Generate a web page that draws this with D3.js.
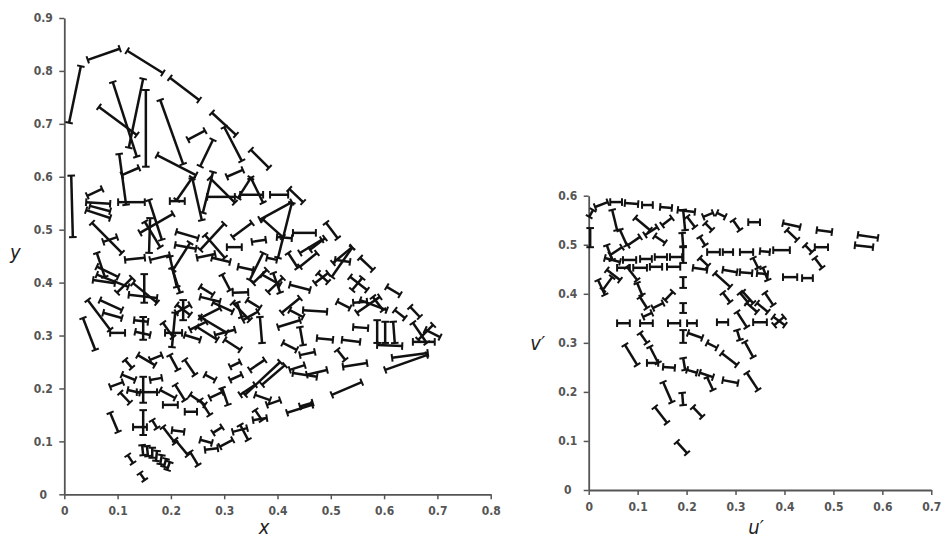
<!DOCTYPE html>
<html>
<head>
<meta charset="utf-8">
<script src="https://cdn.jsdelivr.net/npm/d3@7"></script>
<style>
  body { margin: 0; background: #fff; }
  svg text { font-family: "DejaVu Sans Condensed", "Liberation Sans Narrow", sans-serif; }
</style>
</head>
<body>
<div id="vis"></div>
<script>
// tick values
const xTicks = [0, 0.1, 0.2, 0.3, 0.4, 0.5, 0.6, 0.7, 0.8];
const yTicks = [0, 0.1, 0.2, 0.3, 0.4, 0.5, 0.6, 0.7, 0.8, 0.9];
const uTicks = [0, 0.1, 0.2, 0.3, 0.4, 0.5, 0.6, 0.7];
const vTicks = [0, 0.1, 0.2, 0.3, 0.4, 0.5, 0.6];

// xy diagram: each segment is [x1, y1, x2, y2]
const xyArc = [
  [0.009,0.702,0.031,0.809],[0.044,0.821,0.104,0.842],[0.118,0.838,0.185,0.796],
  [0.198,0.787,0.253,0.745],[0.277,0.721,0.322,0.679],[0.300,0.694,0.333,0.630],
  [0.350,0.651,0.384,0.617],[0.013,0.602,0.016,0.486],[0.091,0.779,0.136,0.638],
  [0.148,0.785,0.121,0.655],[0.153,0.764,0.153,0.619],[0.065,0.732,0.136,0.679],
  [0.180,0.745,0.223,0.624],[0.174,0.641,0.247,0.603],[0.232,0.670,0.264,0.687],
  [0.255,0.620,0.279,0.670],[0.116,0.547,0.103,0.643],[0.108,0.603,0.140,0.617],
  [0.305,0.600,0.335,0.613]
];
const xyRow = [
  [0.043,0.564,0.071,0.577],[0.041,0.552,0.086,0.549],[0.041,0.537,0.086,0.522],
  [0.048,0.545,0.086,0.535],[0.101,0.552,0.151,0.552],[0.159,0.556,0.183,0.481],
  [0.198,0.554,0.226,0.554],[0.211,0.556,0.240,0.598],[0.240,0.598,0.258,0.518],
  [0.268,0.562,0.320,0.562],[0.273,0.598,0.320,0.551],[0.279,0.609,0.260,0.532],
  [0.326,0.560,0.350,0.598],[0.350,0.598,0.373,0.551],[0.330,0.566,0.373,0.566],
  [0.386,0.566,0.420,0.566],[0.422,0.577,0.448,0.552],[0.367,0.519,0.427,0.552],
  [0.427,0.551,0.401,0.447],[0.373,0.519,0.410,0.486],[0.399,0.486,0.427,0.484]
];
const xyBand = [
  [0.052,0.513,0.108,0.456],[0.142,0.494,0.204,0.530],[0.151,0.515,0.180,0.467],
  [0.161,0.522,0.159,0.456],[0.210,0.496,0.251,0.484],[0.208,0.471,0.247,0.464],
  [0.249,0.447,0.283,0.454],[0.316,0.486,0.352,0.513],[0.305,0.467,0.333,0.467],
  [0.352,0.477,0.378,0.481],[0.255,0.462,0.300,0.511],[0.264,0.490,0.301,0.447],
  [0.429,0.494,0.472,0.494],[0.461,0.462,0.489,0.484],[0.491,0.513,0.513,0.484],
  [0.073,0.477,0.099,0.486],[0.061,0.456,0.076,0.411],[0.061,0.430,0.101,0.411],
  [0.114,0.443,0.151,0.447],[0.161,0.443,0.198,0.452],[0.198,0.449,0.211,0.392],
  [0.204,0.424,0.236,0.475],[0.442,0.456,0.483,0.481],[0.504,0.437,0.540,0.467],
  [0.508,0.443,0.536,0.439],[0.555,0.447,0.579,0.424],[0.380,0.447,0.399,0.443],
  [0.420,0.456,0.438,0.428],[0.326,0.430,0.354,0.424],[0.348,0.405,0.373,0.456],
  [0.277,0.447,0.311,0.439]
];
const xyMid = [
  [0.061,0.415,0.120,0.392],[0.099,0.381,0.127,0.409],[0.150,0.416,0.150,0.362],
  [0.121,0.377,0.174,0.371],[0.129,0.399,0.174,0.362],[0.054,0.405,0.095,0.399],
  [0.044,0.367,0.086,0.311],[0.067,0.367,0.108,0.348],[0.073,0.343,0.108,0.333],
  [0.086,0.305,0.114,0.305],[0.035,0.333,0.058,0.273],[0.131,0.329,0.157,0.326],
  [0.133,0.307,0.161,0.301],[0.148,0.335,0.148,0.292],[0.185,0.324,0.204,0.297],
  [0.189,0.305,0.221,0.305],[0.208,0.343,0.202,0.278],[0.202,0.428,0.217,0.381],
  [0.211,0.358,0.236,0.339],[0.223,0.367,0.223,0.329],[0.210,0.343,0.236,0.358],
  [0.226,0.301,0.255,0.292],[0.236,0.311,0.266,0.326],[0.249,0.316,0.287,0.292],
  [0.255,0.333,0.292,0.352],[0.279,0.362,0.316,0.345],[0.255,0.392,0.279,0.377],
  [0.296,0.415,0.311,0.386],[0.316,0.381,0.345,0.382],[0.324,0.362,0.333,0.335],
  [0.343,0.367,0.367,0.352],[0.354,0.399,0.380,0.424],[0.371,0.415,0.405,0.396],
  [0.382,0.382,0.410,0.409],[0.392,0.418,0.405,0.381],[0.423,0.396,0.461,0.386],
  [0.442,0.430,0.474,0.456],[0.476,0.418,0.495,0.401],[0.502,0.411,0.540,0.466],
  [0.470,0.399,0.495,0.418],[0.536,0.411,0.568,0.386],[0.540,0.386,0.559,0.409],
  [0.255,0.373,0.292,0.364],[0.316,0.362,0.348,0.329],[0.408,0.343,0.442,0.371],
  [0.448,0.348,0.493,0.345],[0.423,0.348,0.448,0.335],[0.512,0.364,0.536,0.352],
  [0.542,0.362,0.568,0.364],[0.555,0.367,0.605,0.348],[0.549,0.343,0.592,0.373],
  [0.579,0.373,0.598,0.348],[0.605,0.392,0.630,0.377],[0.620,0.348,0.639,0.333],
  [0.649,0.354,0.667,0.335]
];
const xyLowMid = [
  [0.255,0.335,0.305,0.305],[0.367,0.335,0.371,0.286],[0.335,0.329,0.363,0.345],
  [0.401,0.316,0.442,0.329],[0.442,0.316,0.448,0.282],[0.474,0.295,0.504,0.292],
  [0.521,0.292,0.555,0.288],[0.542,0.316,0.570,0.314],[0.587,0.329,0.587,0.286],
  [0.602,0.326,0.602,0.286],[0.617,0.326,0.620,0.286],[0.587,0.282,0.634,0.280],
  [0.654,0.288,0.695,0.288],[0.654,0.324,0.680,0.286],[0.677,0.311,0.705,0.297],
  [0.664,0.292,0.692,0.320],[0.283,0.301,0.320,0.311],[0.301,0.292,0.330,0.273],
  [0.410,0.286,0.436,0.273]
];
const xyLow = [
  [0.615,0.258,0.682,0.267],[0.602,0.235,0.680,0.263],[0.523,0.241,0.568,0.248],
  [0.512,0.273,0.527,0.254],[0.455,0.226,0.493,0.235],[0.502,0.188,0.558,0.212],
  [0.442,0.166,0.466,0.173],[0.429,0.229,0.474,0.222],[0.086,0.203,0.110,0.212],
  [0.108,0.226,0.133,0.216],[0.119,0.197,0.142,0.192],[0.105,0.192,0.123,0.173],
  [0.136,0.193,0.174,0.193],[0.148,0.222,0.148,0.173],[0.161,0.216,0.183,0.220],
  [0.180,0.197,0.208,0.182],[0.185,0.169,0.213,0.169],[0.208,0.207,0.226,0.178],
  [0.236,0.188,0.264,0.169],[0.226,0.156,0.249,0.156],[0.255,0.178,0.273,0.150],
  [0.273,0.182,0.296,0.193],[0.296,0.201,0.307,0.169],[0.311,0.216,0.333,0.226],
  [0.330,0.188,0.358,0.207],[0.348,0.235,0.376,0.254],[0.358,0.188,0.386,0.178],
  [0.371,0.207,0.414,0.244],[0.339,0.188,0.405,0.250],[0.423,0.235,0.451,0.244],
  [0.442,0.263,0.470,0.269],[0.311,0.241,0.330,0.250],[0.264,0.226,0.283,0.216],
  [0.226,0.254,0.245,0.226],[0.198,0.263,0.213,0.235],[0.161,0.254,0.183,0.263],
  [0.138,0.263,0.170,0.244],[0.114,0.254,0.127,0.239]
];
const xyBottom = [
  [0.086,0.154,0.101,0.118],[0.129,0.127,0.155,0.127],[0.148,0.159,0.148,0.112],
  [0.165,0.140,0.174,0.125],[0.185,0.127,0.208,0.097],[0.202,0.121,0.225,0.118],
  [0.208,0.103,0.232,0.074],[0.236,0.080,0.251,0.055],[0.255,0.103,0.277,0.097],
  [0.264,0.084,0.288,0.087],[0.279,0.116,0.296,0.127],[0.292,0.090,0.316,0.103],
  [0.316,0.118,0.343,0.125],[0.330,0.131,0.345,0.103],[0.354,0.140,0.380,0.144],
  [0.380,0.169,0.405,0.178],[0.418,0.154,0.465,0.169],[0.358,0.159,0.371,0.140],
  [0.119,0.074,0.129,0.059],[0.142,0.040,0.151,0.027],[0.146,0.093,0.148,0.074],
  [0.155,0.091,0.157,0.072],[0.165,0.088,0.165,0.069],[0.174,0.082,0.172,0.063],
  [0.183,0.074,0.180,0.057],[0.191,0.067,0.187,0.052],[0.198,0.061,0.193,0.046]
];

// u'v' diagram: each segment is [u1, v1, u2, v2]
const uvTop = [
  [0.001,0.557,0.009,0.571],[0.013,0.577,0.039,0.587],[0.044,0.587,0.068,0.587],
  [0.074,0.585,0.101,0.583],[0.109,0.581,0.131,0.581],[0.146,0.577,0.170,0.575],
  [0.182,0.571,0.217,0.567],[0.234,0.557,0.254,0.565],[0.262,0.565,0.279,0.557],
  [0.295,0.550,0.309,0.530],[0.326,0.546,0.350,0.546],[0.397,0.544,0.432,0.536],
  [0.405,0.530,0.426,0.510],[0.466,0.530,0.497,0.526],[0.550,0.520,0.591,0.514],
  [0.544,0.499,0.581,0.495],[0.462,0.495,0.489,0.495],[0.442,0.499,0.456,0.485],
  [0.462,0.473,0.477,0.453]
];
const uvChains = [
  [0.003,0.534,0.003,0.495],[0.048,0.571,0.058,0.530],[0.064,0.530,0.078,0.499],
  [0.037,0.499,0.048,0.469],[0.078,0.455,0.099,0.428],[0.099,0.422,0.109,0.398],
  [0.105,0.393,0.119,0.371],[0.074,0.296,0.099,0.255],[0.095,0.555,0.125,0.530],
  [0.135,0.518,0.156,0.504],[0.044,0.479,0.068,0.495],[0.080,0.499,0.105,0.516],
  [0.115,0.520,0.140,0.536],[0.150,0.540,0.170,0.555]
];
const uvRows = [
  [0.033,0.473,0.064,0.465],[0.070,0.469,0.097,0.469],[0.105,0.471,0.129,0.471],
  [0.135,0.475,0.160,0.475],[0.166,0.475,0.191,0.475],[0.242,0.485,0.268,0.485],
  [0.274,0.485,0.295,0.485],[0.309,0.485,0.336,0.485],[0.350,0.487,0.370,0.485],
  [0.377,0.489,0.411,0.489],[0.058,0.453,0.084,0.453],[0.091,0.453,0.119,0.453],
  [0.125,0.455,0.150,0.455],[0.160,0.455,0.187,0.455],[0.213,0.453,0.242,0.449],
  [0.274,0.449,0.303,0.444],[0.309,0.444,0.334,0.442],[0.344,0.442,0.366,0.440],
  [0.397,0.434,0.426,0.434],[0.436,0.432,0.458,0.432],[0.058,0.340,0.084,0.340],
  [0.105,0.340,0.131,0.340],[0.162,0.340,0.187,0.340],[0.201,0.340,0.221,0.340],
  [0.262,0.342,0.285,0.342],[0.336,0.342,0.364,0.342]
];
const uvVertical = [
  [0.193,0.571,0.197,0.530],[0.191,0.524,0.193,0.497],[0.193,0.495,0.193,0.463],
  [0.193,0.434,0.193,0.412],[0.193,0.381,0.193,0.361],[0.193,0.326,0.193,0.300],
  [0.193,0.269,0.197,0.245],[0.191,0.198,0.193,0.173],[0.180,0.098,0.201,0.075]
];
const uvLower = [
  [0.377,0.353,0.401,0.336],[0.379,0.336,0.399,0.353],[0.111,0.353,0.129,0.361],
  [0.131,0.371,0.152,0.381],[0.156,0.387,0.172,0.404],[0.227,0.473,0.244,0.457],
  [0.258,0.442,0.289,0.414],[0.274,0.402,0.289,0.383],[0.309,0.402,0.325,0.383],
  [0.323,0.381,0.344,0.363],[0.203,0.320,0.232,0.310],[0.242,0.300,0.262,0.290],
  [0.272,0.279,0.303,0.255],[0.274,0.224,0.305,0.218],[0.105,0.320,0.119,0.300],
  [0.125,0.292,0.142,0.259],[0.119,0.259,0.142,0.259],[0.152,0.251,0.176,0.249],
  [0.201,0.245,0.221,0.239],[0.227,0.239,0.254,0.230],[0.242,0.230,0.254,0.204],
  [0.303,0.326,0.309,0.306],[0.319,0.302,0.336,0.271],[0.323,0.239,0.346,0.204],
  [0.152,0.220,0.170,0.179],[0.213,0.169,0.232,0.149],[0.135,0.169,0.160,0.137],
  [0.227,0.516,0.238,0.499],[0.238,0.544,0.252,0.530],[0.201,0.557,0.217,0.536],
  [0.336,0.473,0.346,0.453],[0.356,0.453,0.366,0.428],[0.315,0.404,0.336,0.381],
  [0.360,0.402,0.377,0.377],[0.344,0.381,0.366,0.363],[0.019,0.428,0.033,0.398],
  [0.029,0.408,0.048,0.434],[0.037,0.449,0.064,0.428],[0.303,0.363,0.323,0.332]
];

const FRAME = d3.select("#vis")
                .append("svg")
                  .attr("width", 941)
                  .attr("height", 541);

// scales for both diagrams
const X_SCALE = d3.scaleLinear().domain([0, 0.8]).range([64.3, 490.7]);
const Y_SCALE = d3.scaleLinear().domain([0, 0.9]).range([494.3, 18]);
const U_SCALE = d3.scaleLinear().domain([0, 0.7]).range([588.7, 931.3]);
const V_SCALE = d3.scaleLinear().domain([0, 0.6]).range([490, 195.7]);

const fmt = d3.format(".1~f");

// draws a pair of axes, labels centred left of the vertical axis
function drawAxes(xs, ys, xt, yt) {
  const gx = FRAME.append("g")
      .attr("transform", "translate(0," + ys(0) + ")")
      .call(d3.axisBottom(xs).tickValues(xt).tickSize(5).tickSizeOuter(0).tickFormat(fmt));
  gx.selectAll("text").attr("y", 12).attr("font-size", "12px")
      .attr("font-weight", "bold").attr("fill", "#555");

  const gy = FRAME.append("g")
      .attr("transform", "translate(" + xs(0) + ",0)")
      .call(d3.axisLeft(ys).tickValues(yt).tickSize(5).tickSizeOuter(0).tickFormat(fmt));
  gy.selectAll("text").attr("x", -21).attr("text-anchor", "middle")
      .attr("font-size", "12px").attr("font-weight", "bold").attr("fill", "#555");

  [gx, gy].forEach(g => {
    g.select(".domain").attr("stroke", "#555").attr("stroke-width", 1.8);
    g.selectAll(".tick line").attr("stroke", "#555").attr("stroke-width", 1.5);
  });
}

// I-beam segments: a line with short perpendicular caps at both ends
function drawBeams(segs, xs, ys) {
  const CAP = 3.8;
  const pts = segs.map(s => {
    const x1 = xs(s[0]), y1 = ys(s[1]), x2 = xs(s[2]), y2 = ys(s[3]);
    const len = Math.hypot(x2 - x1, y2 - y1) || 1;
    return {x1, y1, x2, y2, nx: -(y2 - y1) / len * CAP, ny: (x2 - x1) / len * CAP};
  });
  const g = FRAME.append("g").attr("stroke", "#111").attr("stroke-linecap", "butt");
  g.selectAll(".beam").data(pts).enter().append("line")
      .attr("class", "beam")
      .attr("x1", d => d.x1).attr("y1", d => d.y1)
      .attr("x2", d => d.x2).attr("y2", d => d.y2)
      .attr("stroke-width", 2.5);
  g.selectAll(".capA").data(pts).enter().append("line")
      .attr("x1", d => d.x1 - d.nx).attr("y1", d => d.y1 - d.ny)
      .attr("x2", d => d.x1 + d.nx).attr("y2", d => d.y1 + d.ny)
      .attr("stroke-width", 2);
  g.selectAll(".capB").data(pts).enter().append("line")
      .attr("x1", d => d.x2 - d.nx).attr("y1", d => d.y2 - d.ny)
      .attr("x2", d => d.x2 + d.nx).attr("y2", d => d.y2 + d.ny)
      .attr("stroke-width", 2);
}

drawAxes(X_SCALE, Y_SCALE, xTicks, yTicks);
drawAxes(U_SCALE, V_SCALE, uTicks, vTicks);

[xyArc, xyRow, xyBand, xyMid, xyLowMid, xyLow, xyBottom]
  .forEach(s => drawBeams(s, X_SCALE, Y_SCALE));
[uvTop, uvChains, uvRows, uvVertical, uvLower]
  .forEach(s => drawBeams(s, U_SCALE, V_SCALE));

// axis titles
const titles = [
  {t: "x", x: X_SCALE(0.375), y: Y_SCALE(0) + 40},
  {t: "y", x: X_SCALE(0) - 49, y: Y_SCALE(0.445)},
  {t: "u\u2032", x: U_SCALE(0.342), y: V_SCALE(0) + 44},
  {t: "v\u2032", x: U_SCALE(0) - 51, y: V_SCALE(0.285)}
];
FRAME.selectAll(".title").data(titles).enter().append("text")
    .attr("x", d => d.x).attr("y", d => d.y)
    .attr("text-anchor", "middle")
    .attr("font-size", "20px").attr("font-style", "italic")
    .attr("fill", "#222")
    .text(d => d.t);
</script>
</body>
</html>
